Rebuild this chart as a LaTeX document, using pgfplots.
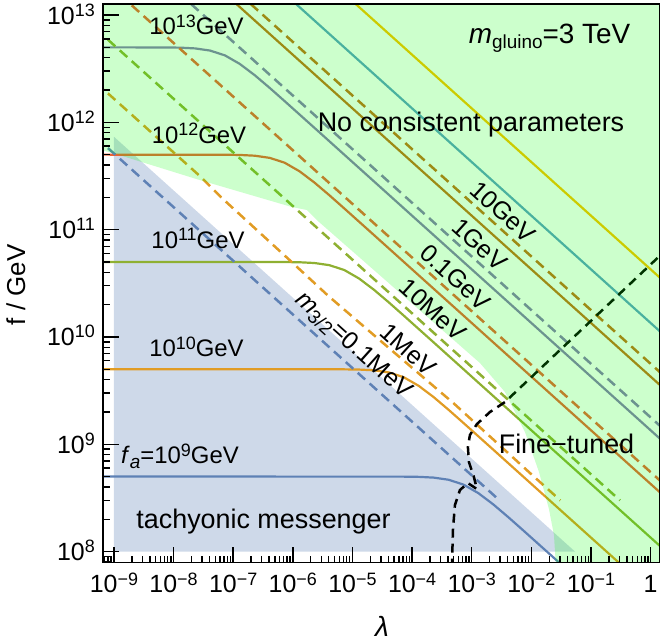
\documentclass[border=0pt]{standalone}
\usepackage{fontspec}
\setmainfont{Liberation Sans}
\usepackage{pgfplots}
\pgfplotsset{compat=1.18}
\definecolor{c1}{RGB}{94,129,181}
\definecolor{c2}{RGB}{225,156,36}
\definecolor{c3}{RGB}{143,176,50}
\definecolor{c4}{RGB}{235,98,53}
\definecolor{c5}{RGB}{135,120,179}
\definecolor{c6}{RGB}{197,110,26}
\definecolor{c7}{RGB}{93,158,199}
\definecolor{c8}{RGB}{255,191,0}
\newcommand{\sps}[1]{\raisebox{0.32em}{\fontsize{18}{18}\selectfont #1}}
\newcommand{\sbs}[1]{\raisebox{-0.2em}{\fontsize{19}{19}\selectfont #1}}
\newcommand{\fs}[1]{\fontsize{#1}{#1}\selectfont}
\pgfplotsset{
  table/lg/.style={x expr={pow(10,\thisrow{lx})}, y expr={pow(10,\thisrow{ly})}},
  sol/.style={line width=2.2bp},
  dsh/.style={line width=2.5bp, dash pattern=on 10bp off 6bp},
}
\begin{document}
\begin{tikzpicture}[x=1bp,y=1bp]
\useasboundingbox (0,0) rectangle (664,644);
\begin{axis}[
  at={(103bp,81.5bp)}, anchor=south west,
  scale only axis, width=556.5bp, height=558.5bp,
  xmode=log, ymode=log,
  xmin=6.56e-10, xmax=1.409, ymin=7.907e7, ymax=1.268e13,
  axis on top=true,
  axis line style={line width=1.5bp, black},
  tick align=inside, xtick pos=bottom, ytick pos=left,
  major tick length=16bp, minor tick length=7bp,
  every tick/.style={black, line width=1.4bp},
  xtick={1e-9,1e-8,1e-7,1e-6,1e-5,1e-4,1e-3,1e-2,1e-1,1},
  xticklabels={10\sps{−9},10\sps{−8},10\sps{−7},10\sps{−6},10\sps{−5},10\sps{−4},10\sps{−3},10\sps{−2},10\sps{−1},1},
  minor xtick={7e-10,8e-10,9e-10,
    2e-9,3e-9,4e-9,5e-9,6e-9,7e-9,8e-9,9e-9,
    2e-8,3e-8,4e-8,5e-8,6e-8,7e-8,8e-8,9e-8,
    2e-7,3e-7,4e-7,5e-7,6e-7,7e-7,8e-7,9e-7,
    2e-6,3e-6,4e-6,5e-6,6e-6,7e-6,8e-6,9e-6,
    2e-5,3e-5,4e-5,5e-5,6e-5,7e-5,8e-5,9e-5,
    2e-4,3e-4,4e-4,5e-4,6e-4,7e-4,8e-4,9e-4,
    2e-3,3e-3,4e-3,5e-3,6e-3,7e-3,8e-3,9e-3,
    2e-2,3e-2,4e-2,5e-2,6e-2,7e-2,8e-2,9e-2,
    0.2,0.3,0.4,0.5,0.6,0.7,0.8,0.9},
  ytick={1e8,1e9,1e10,1e11,1e12,1e13},
  yticklabels={10\sps{8},10\sps{9},10\sps{10},10\sps{11},10\sps{12},10\sps{13}},
  minor ytick={8e7,9e7,
    2e8,3e8,4e8,5e8,6e8,7e8,8e8,9e8,
    2e9,3e9,4e9,5e9,6e9,7e9,8e9,9e9,
    2e10,3e10,4e10,5e10,6e10,7e10,8e10,9e10,
    2e11,3e11,4e11,5e11,6e11,7e11,8e11,9e11,
    2e12,3e12,4e12,5e12,6e12,7e12,8e12,9e12},
  ticklabel style={font=\fs{25}, inner sep=0pt},
  xticklabel style={anchor=base, yshift=-30.5bp},
  yticklabel style={anchor=base east, xshift=-8bp, yshift=-9bp},
]
% tachyonic messenger region
\addplot[fill=c1, fill opacity=0.3, draw=none] table[lg] {
lx ly
-9 8
-9 11.866
-1.268 8
} -- cycle;

% solid f_a lines
\addplot[c1, sol] table[lg] {
lx ly
-9.3 8.699
-4.138 8.698
-3.888 8.696
-3.638 8.689
-3.388 8.669
-3.138 8.624
-2.888 8.544
-2.638 8.439
-2.388 8.321
-2.138 8.198
-1.638 7.949
0.3 6.98
};
\addplot[c2, sol] table[lg] {
lx ly
-9.3 9.699
-5.138 9.698
-4.888 9.696
-4.638 9.689
-4.388 9.669
-4.138 9.624
-3.888 9.544
-3.638 9.439
-3.388 9.321
-3.138 9.198
-2.638 8.949
0.3 7.48
};
\addplot[c3, sol] table[lg] {
lx ly
-9.3 10.699
-6.138 10.698
-5.888 10.696
-5.638 10.689
-5.388 10.669
-5.138 10.624
-4.888 10.544
-4.638 10.439
-4.388 10.321
-4.138 10.198
-3.638 9.949
0.3 7.98
};
\addplot[c4, sol] table[lg] {
lx ly
-9.3 11.699
-7.138 11.698
-6.888 11.696
-6.638 11.689
-6.388 11.669
-6.138 11.624
-5.888 11.544
-5.638 11.439
-5.388 11.321
-5.138 11.198
-4.638 10.949
0.3 8.48
};
\addplot[c5, sol] table[lg] {
lx ly
-9.3 12.699
-8.138 12.698
-7.888 12.696
-7.638 12.689
-7.388 12.669
-7.138 12.624
-6.888 12.544
-6.638 12.439
-6.388 12.321
-6.138 12.198
-5.638 11.949
0.3 8.98
};
\addplot[c6, sol] table[lg] {
lx ly
-9.3 14.28
0.3 9.48
};
\addplot[c7, sol] table[lg] {
lx ly
-9.3 14.78
0.3 9.98
};
\addplot[c8, sol] table[lg] {
lx ly
-9.3 15.28
0.3 10.48
};

% dashed m_3/2 lines
\addplot[c1, dsh] table[lg] {
lx ly
-9.3 11.86
-2.534 8.477
};
\addplot[c2, dsh] table[lg] {
lx ly
-9.3 12.37
-7.56 11.50
-7.2 11.30
-6.1 10.74
-5.4 10.38
-4.5 9.95
-3.3 9.38
-2.0 8.72
-1.514 8.477
};
\addplot[c3, dsh] table[lg] {
lx ly
-9.3 12.87
-0.514 8.477
};
\addplot[c4, dsh] table[lg] {
lx ly
-9.3 13.39
0.3 8.59
};
\addplot[c5, dsh] table[lg] {
lx ly
-9.3 13.90
0.3 9.10
};
\addplot[c6, dsh] table[lg] {
lx ly
-9.3 14.40
0.3 9.60
};

% fine-tuning boundary
\addplot[black, line width=2.5bp, dash pattern=on 9bp off 6bp] table[lg] {
lx ly
-3.332 7.85
-3.315 8.200
-3.282 8.433
-3.198 8.573
-3.064 8.638
-2.913 8.582
-2.963 8.694
-3.047 8.834
-3.064 8.974
-3.030 9.086
-2.913 9.188
-2.695 9.300
-2.443 9.393
0.3 10.833
};

% no consistent parameters region
\addplot[fill=green, fill opacity=0.2, draw=none] table[lg] {
lx ly
-9.4 13.3
0.3 13.3
0.3 7.8
-1.58 7.8
-1.603 7.995
-1.621 8.154
-1.705 8.396
-1.872 8.741
-2.107 9.114
-2.443 9.487
-2.862 9.757
-5.597 11.089
-5.765 11.183
-6.017 11.211
-7.56 11.462
-9.02 11.714
-9.4 11.77
} -- cycle;
\end{axis}

% labels
\node[anchor=base, inner sep=0pt, font=\fs{24}] at (196.5,609) {10\sps{13}GeV};
\node[anchor=base, inner sep=0pt, font=\fs{24}] at (199,500.7) {10\sps{12}GeV};
\node[anchor=base, inner sep=0pt, font=\fs{24}] at (198,395.7) {10\sps{11}GeV};
\node[anchor=base, inner sep=0pt, font=\fs{24}] at (196.5,287) {10\sps{10}GeV};
\node[anchor=base, inner sep=0pt, font=\fs{24}] at (180,180.3) {\textit{f}\sbs{\textit{a}}=10\sps{9}GeV};
\node[anchor=base, inner sep=0pt, font=\fs{27}] at (263.5,115.3) {tachyonic messenger};
\node[anchor=base, inner sep=0pt, font=\fs{27}] at (471,512.3) {No consistent parameters};
\node[anchor=base, inner sep=0pt, font=\fs{28}] at (549.5,600.7) {\textit{m}\sbs{gluino}=3 TeV};
\node[anchor=base, inner sep=0pt, font=\fs{27}] at (566.5,190.3) {Fine−tuned};
\node[rotate=-42, inner sep=0pt, font=\fs{25}] at (503,432) {10GeV};
\node[rotate=-42, inner sep=0pt, font=\fs{25}] at (479.5,399.5) {1GeV};
\node[rotate=-42, inner sep=0pt, font=\fs{25}] at (455.5,366.5) {0.1GeV};
\node[rotate=-42, inner sep=0pt, font=\fs{25}] at (433,334) {10MeV};
\node[rotate=-42, inner sep=0pt, font=\fs{25}] at (408.5,294) {1MeV};
\node[rotate=-42, inner sep=0pt, font=\fs{25}] at (353,298) {\textit{m}\sbs{3/2}=0.1MeV};
\node[rotate=90, anchor=base, inner sep=0pt, font=\fs{26}] at (25,359) {f / GeV};
\node[anchor=base, inner sep=0pt, font=\fs{28}] at (382,7) {\textit{λ}};
\end{tikzpicture}
\end{document}
